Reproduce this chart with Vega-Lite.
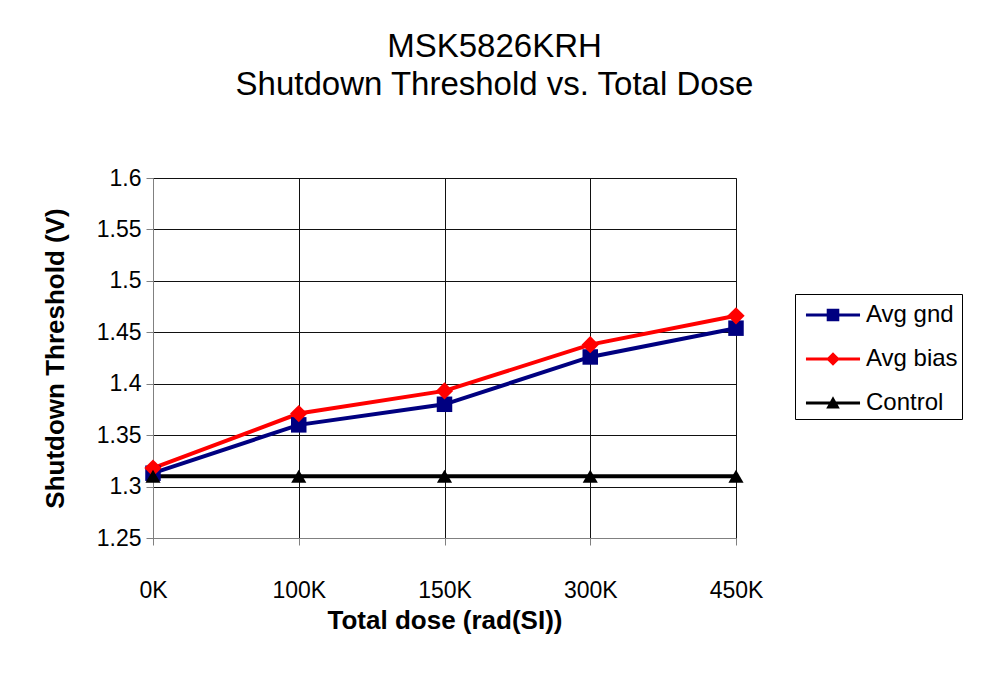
{
  "$schema": "https://vega.github.io/schema/vega-lite/v6.json",
  "autosize": {"type": "none"},
  "width": 583,
  "height": 360,
  "padding": {"left": 153, "top": 178, "right": 249, "bottom": 139},
  "background": "white",
  "title": {
    "text": ["MSK5826KRH", "Shutdown Threshold vs. Total Dose"],
    "font": "Liberation Sans",
    "fontSize": 33,
    "fontWeight": "normal",
    "color": "black",
    "anchor": "middle",
    "dx": 50,
    "offset": 65,
    "lineHeight": 38
  },
  "config": {
    "view": {"stroke": "#808080", "strokeWidth": 1},
    "axis": {
      "labelFont": "Liberation Sans",
      "titleFont": "Liberation Sans",
      "labelColor": "black",
      "titleColor": "black",
      "domainColor": "#808080",
      "tickColor": "#808080",
      "gridColor": "#111111",
      "gridOpacity": 1,
      "gridWidth": 1
    },
    "legend": {
      "orient": "none",
      "legendX": 642,
      "legendY": 116,
      "labelFont": "Liberation Sans",
      "labelFontSize": 24,
      "labelColor": "black",
      "labelLimit": 300,
      "symbolSize": 1156,
      "symbolStrokeWidth": 0,
      "symbolOpacity": 1,
      "labelOffset": 33,
      "rowPadding": 15,
      "padding": 4,
      "strokeColor": "black",
      "fillColor": "white"
    }
  },
  "data": {
    "values": [
      {"dose": "0K", "series": "Avg gnd", "v": 1.313},
      {"dose": "100K", "series": "Avg gnd", "v": 1.36},
      {"dose": "150K", "series": "Avg gnd", "v": 1.38},
      {"dose": "300K", "series": "Avg gnd", "v": 1.426},
      {"dose": "450K", "series": "Avg gnd", "v": 1.454},
      {"dose": "0K", "series": "Avg bias", "v": 1.318},
      {"dose": "100K", "series": "Avg bias", "v": 1.371},
      {"dose": "150K", "series": "Avg bias", "v": 1.393},
      {"dose": "300K", "series": "Avg bias", "v": 1.438},
      {"dose": "450K", "series": "Avg bias", "v": 1.466},
      {"dose": "0K", "series": "Control", "v": 1.31},
      {"dose": "100K", "series": "Control", "v": 1.31},
      {"dose": "150K", "series": "Control", "v": 1.31},
      {"dose": "300K", "series": "Control", "v": 1.31},
      {"dose": "450K", "series": "Control", "v": 1.31}
    ]
  },
  "encoding": {
    "x": {
      "field": "dose",
      "type": "ordinal",
      "sort": ["0K", "100K", "150K", "300K", "450K"],
      "scale": {"type": "point", "padding": 0},
      "axis": {
        "title": "Total dose (rad(SI))",
        "titleFontSize": 26,
        "titleFontWeight": "bold",
        "titlePadding": 5,
        "labelFontSize": 23,
        "labelAngle": 0,
        "labelPadding": 34,
        "tickSize": 7,
        "grid": true
      }
    },
    "y": {
      "field": "v",
      "type": "quantitative",
      "scale": {"domain": [1.25, 1.6], "zero": false, "nice": false},
      "axis": {
        "title": "Shutdown Threshold (V)",
        "titleFontSize": 26,
        "titleFontWeight": "bold",
        "titlePadding": 28,
        "labelFontSize": 23,
        "labelPadding": 5,
        "tickSize": 7,
        "values": [1.25, 1.3, 1.35, 1.4, 1.45, 1.5, 1.55, 1.6],
        "format": ".3~g",
        "grid": true
      }
    },
    "color": {
      "field": "series",
      "type": "nominal",
      "scale": {"domain": ["Avg gnd", "Avg bias", "Control"], "range": ["#000080", "#ff0000", "#000000"]},
      "legend": {"title": null, "labelExpr": "datum.label + '\u00a0\u00a0'"}
    }
  },
  "layer": [
    {
      "mark": {"type": "line", "strokeWidth": 4},
      "encoding": {"detail": {"field": "series"}}
    },
    {
      "transform": [{"filter": "datum.series == 'Avg gnd'"}],
      "mark": {"type": "point", "filled": true, "opacity": 1, "shape": "square", "size": 240}
    },
    {
      "transform": [{"filter": "datum.series == 'Avg bias'"}],
      "mark": {"type": "point", "filled": true, "opacity": 1, "shape": "diamond", "size": 300}
    },
    {
      "transform": [{"filter": "datum.series == 'Control'"}],
      "mark": {"type": "point", "filled": true, "opacity": 1, "shape": "triangle-up", "size": 230}
    },
    {
      "transform": [{"filter": "false"}],
      "mark": {"type": "point", "filled": true, "opacity": 1},
      "encoding": {
        "shape": {
          "field": "series",
          "type": "nominal",
          "scale": {
            "domain": ["Avg gnd", "Avg bias", "Control"],
            "range": [
              "M-0.59,-0.09H2.59V0.09H-0.59Z M0.63,-0.37H1.37V0.37H0.63Z",
              "M-0.59,-0.09H2.59V0.09H-0.59Z M1,-0.4L1.4,0L1,0.4L0.6,0Z",
              "M-0.59,-0.09H2.59V0.09H-0.59Z M1,-0.4L1.4,0.33L0.6,0.33Z"
            ]
          },
          "legend": {"title": null, "labelExpr": "datum.label + '\u00a0\u00a0'"}
        }
      }
    }
  ]
}
